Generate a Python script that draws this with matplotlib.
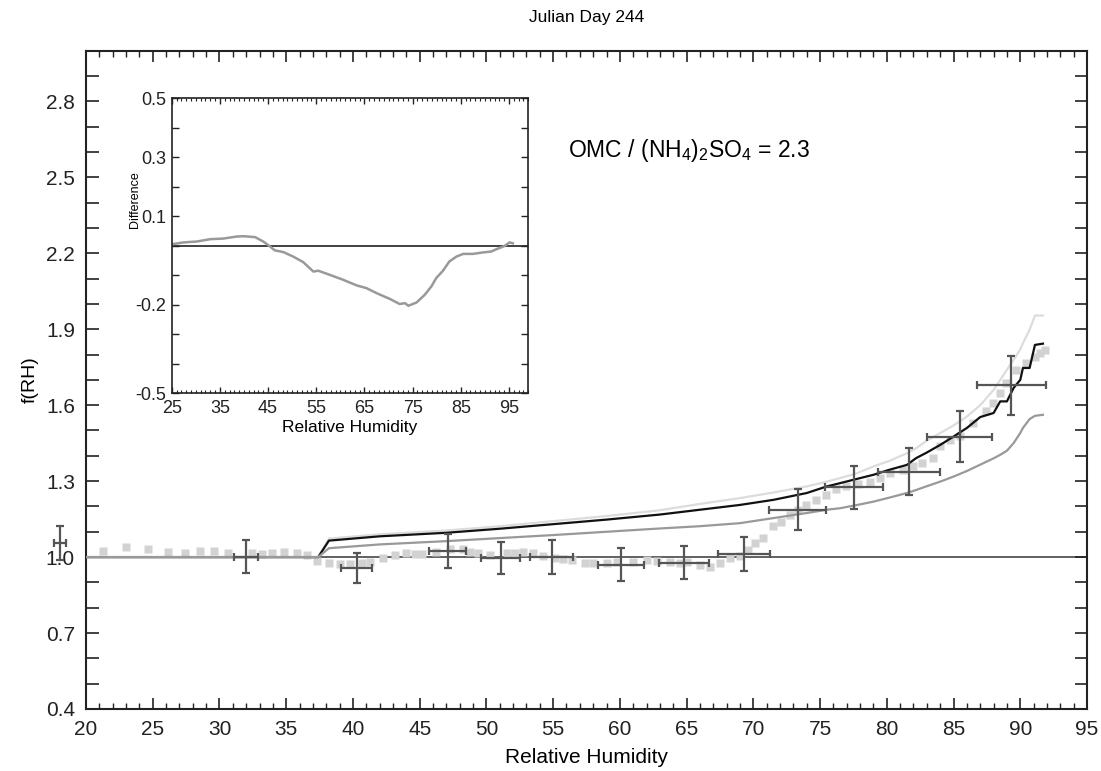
import matplotlib
matplotlib.use("Agg")
import matplotlib.pyplot as plt
from matplotlib.ticker import MultipleLocator, FixedLocator

plt.rcParams['font.family'] = ['Liberation Sans', 'DejaVu Sans']
plt.rcParams['mathtext.fontset'] = 'custom'
plt.rcParams['mathtext.rm'] = 'Liberation Sans'
plt.rcParams['mathtext.it'] = 'Liberation Sans'

# ---------------- data ----------------
meas_rh = [21.25, 23.0, 24.62, 26.17, 27.42, 28.54, 29.62, 30.66, 32.41, 33.21, 33.96, 34.86,
           35.78, 36.58, 37.33, 38.18, 39.0, 39.8, 40.65, 41.27, 42.22, 43.15, 43.97, 44.64,
           45.2, 46.2, 47.27, 48.26, 48.76, 49.39, 50.26, 51.51, 52.13, 52.76, 53.51, 54.26,
           55.13, 55.75, 56.38, 57.38, 58.0, 59.0, 59.75, 61.0, 62.0, 62.75, 63.75, 64.5,
           65.0, 66.0, 66.74, 67.49, 68.24, 68.99, 69.6, 70.11, 70.73, 71.48, 72.11, 72.73,
           73.36, 73.98, 74.73, 75.48, 76.23, 76.98, 77.85, 78.73, 79.48, 80.22, 81.22, 81.97,
           82.6, 83.47, 83.97, 84.72, 85.47, 86.47, 87.47, 87.96, 88.46, 88.96, 89.71, 90.46,
           91.09, 91.46, 91.84]
meas_f = [1.026, 1.038, 1.033, 1.022, 1.016, 1.026, 1.026, 1.016, 1.016, 1.013, 1.016, 1.019,
          1.018, 1.010, 0.986, 0.976, 0.972, 0.972, 0.976, 0.982, 0.995, 1.009, 1.015, 1.012,
          1.012, 1.02, 1.031, 1.031, 1.022, 1.015, 1.009, 1.015, 1.018, 1.022, 1.015, 1.005,
          0.996, 0.992, 0.989, 0.978, 0.976, 0.978, 0.982, 0.982, 0.989, 0.985, 0.982, 0.978,
          0.982, 0.969, 0.962, 0.978, 0.996, 1.005, 1.028, 1.055, 1.075, 1.121, 1.14, 1.167,
          1.187, 1.206, 1.226, 1.246, 1.268, 1.279, 1.289, 1.298, 1.312, 1.332, 1.345, 1.358,
          1.371, 1.391, 1.437, 1.463, 1.479, 1.529, 1.575, 1.608, 1.648, 1.687, 1.74, 1.766,
          1.792, 1.806, 1.819]

eb_rh = [18.05, 31.96, 40.28, 47.09, 51.06, 54.88, 60.07, 64.82, 69.29, 73.31, 77.53, 81.67, 85.47, 89.34]
eb_f = [1.056, 1.002, 0.956, 1.024, 0.996, 1.002, 0.969, 0.978, 1.013, 1.187, 1.275, 1.338, 1.476, 1.678]
eb_ferr = [0.067, 0.065, 0.059, 0.066, 0.064, 0.067, 0.065, 0.064, 0.068, 0.081, 0.086, 0.092, 0.102, 0.115]
eb_rherr = [0.45, 0.9, 1.18, 1.37, 1.47, 1.6, 1.71, 1.87, 1.95, 2.1, 2.18, 2.31, 2.43, 2.57]

model_rh = [20, 37.4, 38.2, 42, 47, 51, 55, 59, 63, 66,
            69, 71.5, 74, 75.5, 76.5, 77.7, 79, 80.2, 81.5, 82.2,
            83, 84, 85, 86, 87, 88, 88.5, 89, 89.5, 90,
            90.2, 90.7, 91.1, 91.7]
model_mid = [1.0, 1.0, 1.065, 1.082, 1.096, 1.112, 1.13, 1.148, 1.168, 1.187,
             1.206, 1.226, 1.253, 1.279, 1.292, 1.308, 1.325, 1.345, 1.364, 1.391,
             1.413, 1.443, 1.476, 1.51, 1.553, 1.569, 1.615, 1.615, 1.668, 1.7,
             1.747, 1.747, 1.838, 1.843]
model_high = [1.0, 1.0, 1.073, 1.09, 1.105, 1.122, 1.142, 1.162, 1.185, 1.21,
              1.233, 1.255, 1.279, 1.298, 1.312, 1.33, 1.358, 1.38, 1.41, 1.43,
              1.46, 1.49, 1.52, 1.555, 1.60, 1.66, 1.70, 1.74, 1.779, 1.82,
              1.845, 1.898, 1.954, 1.954]
model_low = [1.0, 1.0, 1.035, 1.05, 1.063, 1.075, 1.087, 1.1, 1.113, 1.122,
             1.134, 1.154, 1.174, 1.187, 1.193, 1.205, 1.219, 1.235, 1.253, 1.265,
             1.28, 1.298, 1.318, 1.34, 1.365, 1.39, 1.404, 1.42, 1.45, 1.49,
             1.51, 1.545, 1.558, 1.562]

diff_rh = [25.2, 27.4, 30.2, 33.0, 35.7, 38.5, 39.9, 42.3, 44.0, 45.4, 46.4, 48.2, 50.2,
           52.3, 54.4, 55.4, 57.8, 60.6, 63.4, 65.4, 67.5, 70.3, 72.3, 73.4, 74.1, 75.8,
           77.5, 78.9, 79.9, 81.3, 82.6, 84.1, 85.5, 87.5, 89.6, 91.3, 92.4, 94.1, 95.1, 95.8]
diff_val = [0.005, 0.011, 0.014, 0.022, 0.024, 0.031, 0.032, 0.029, 0.014, -0.003, -0.016,
            -0.022, -0.037, -0.056, -0.088, -0.085, -0.099, -0.116, -0.135, -0.144, -0.161,
            -0.181, -0.198, -0.195, -0.204, -0.193, -0.167, -0.138, -0.110, -0.085, -0.054,
            -0.037, -0.028, -0.028, -0.023, -0.020, -0.012, -0.001, 0.011, 0.008]

main_yticks = [0.4, 0.7, 1.0, 1.3, 1.6, 1.9, 2.2, 2.5, 2.8]
main_xticks = [20, 25, 30, 35, 40, 45, 50, 55, 60, 65, 70, 75, 80, 85, 90, 95]
inset_yticks = [0.5, 0.3, 0.1, -0.2, -0.5]
inset_xticks = [25, 35, 45, 55, 65, 75, 85, 95]

# ---------------- figure ----------------
fig = plt.figure(figsize=(11.01, 7.71), dpi=100)
ax = fig.add_axes([86/1101, 1 - 709/771, 1001/1101, 658.3/771])

dark = '#555555'
ax.axhline(1.0, color=dark, lw=1.3, zorder=1)
ax.plot(meas_rh, meas_f, ls='none', marker='s', ms=5.2, mfc='#d2d2d2', mec='none', zorder=2)
ax.plot(model_rh, model_high, color='#dcdcdc', lw=1.6, zorder=3)
ax.plot(model_rh, model_mid, color='#111111', lw=1.6, zorder=4)
ax.plot(model_rh, model_low, color='#999999', lw=1.6, zorder=5)
eb = ax.errorbar(eb_rh, eb_f, yerr=eb_ferr, xerr=eb_rherr, fmt='none', ecolor=dark,
                 elinewidth=1.6, capsize=3, capthick=1.6, zorder=6)
for art in list(eb.lines[1]) + list(eb.lines[2]):
    art.set_clip_on(False)

ax.set_xlim(20, 95)
ax.set_ylim(0.4, 3.0)
ax.xaxis.set_major_locator(FixedLocator(main_xticks))
ax.xaxis.set_minor_locator(MultipleLocator(1))
ax.yaxis.set_major_locator(FixedLocator(main_yticks))
ax.yaxis.set_minor_locator(MultipleLocator(0.1))
ax.set_yticklabels([f'{v:.1f}' for v in main_yticks])
ax.tick_params(which='both', direction='in', top=True, right=True, labelsize=15, colors='#222222')
ax.tick_params(axis='x', which='major', length=8, width=1.2, pad=8)
ax.tick_params(axis='x', which='minor', length=4, width=1.0)
ax.tick_params(axis='y', which='both', length=9, width=1.2, pad=8)
for s in ax.spines.values():
    s.set_linewidth(1.5)
    s.set_color('#222222')
ax.set_xlabel('Relative Humidity', fontsize=15)
ax.xaxis.set_label_coords(0.5, -0.059)
ax.set_ylabel('f(RH)', fontsize=14)
ax.yaxis.set_label_coords(-0.047, 0.5)
ax.set_title('Julian Day 244', fontsize=12.5, pad=21)

ax.text(56.1, 2.605, r'OMC / (NH$_{\mathregular{4}}$)$_{\mathregular{2}}$SO$_{\mathregular{4}}$ = 2.3',
        fontsize=16.5, va='center', ha='left')

# ---------------- inset ----------------
axi = fig.add_axes([171.7/1101, 1 - 393/771, 356.6/1101, 294.7/771])
axi.axhline(0.0, color='#333333', lw=1.3, zorder=1)
axi.plot(diff_rh, diff_val, color='#999999', lw=1.8, zorder=2)
axi.set_xlim(25, 99)
axi.set_ylim(-0.5, 0.5)
axi.xaxis.set_major_locator(FixedLocator(inset_xticks))
axi.xaxis.set_minor_locator(MultipleLocator(1))
axi.yaxis.set_major_locator(FixedLocator(inset_yticks))
axi.yaxis.set_minor_locator(MultipleLocator(0.1))
axi.set_yticklabels(['0.5', '0.3', '0.1', '-0.2', '-0.5'])
axi.tick_params(which='both', direction='in', top=True, right=True, labelsize=13, colors='#222222')
axi.tick_params(axis='x', which='major', length=4, width=1.0, pad=5)
axi.tick_params(axis='x', which='minor', length=2, width=0.8)
axi.tick_params(axis='y', which='both', length=5, width=1.0, pad=4)
for s in axi.spines.values():
    s.set_linewidth(1.2)
    s.set_color('#222222')
axi.set_xlabel('Relative Humidity', fontsize=12.5, labelpad=2)
axi.set_ylabel('Difference', fontsize=9)
axi.yaxis.set_label_coords(-0.085, 0.655)

fig.savefig('out.png', dpi=100)
